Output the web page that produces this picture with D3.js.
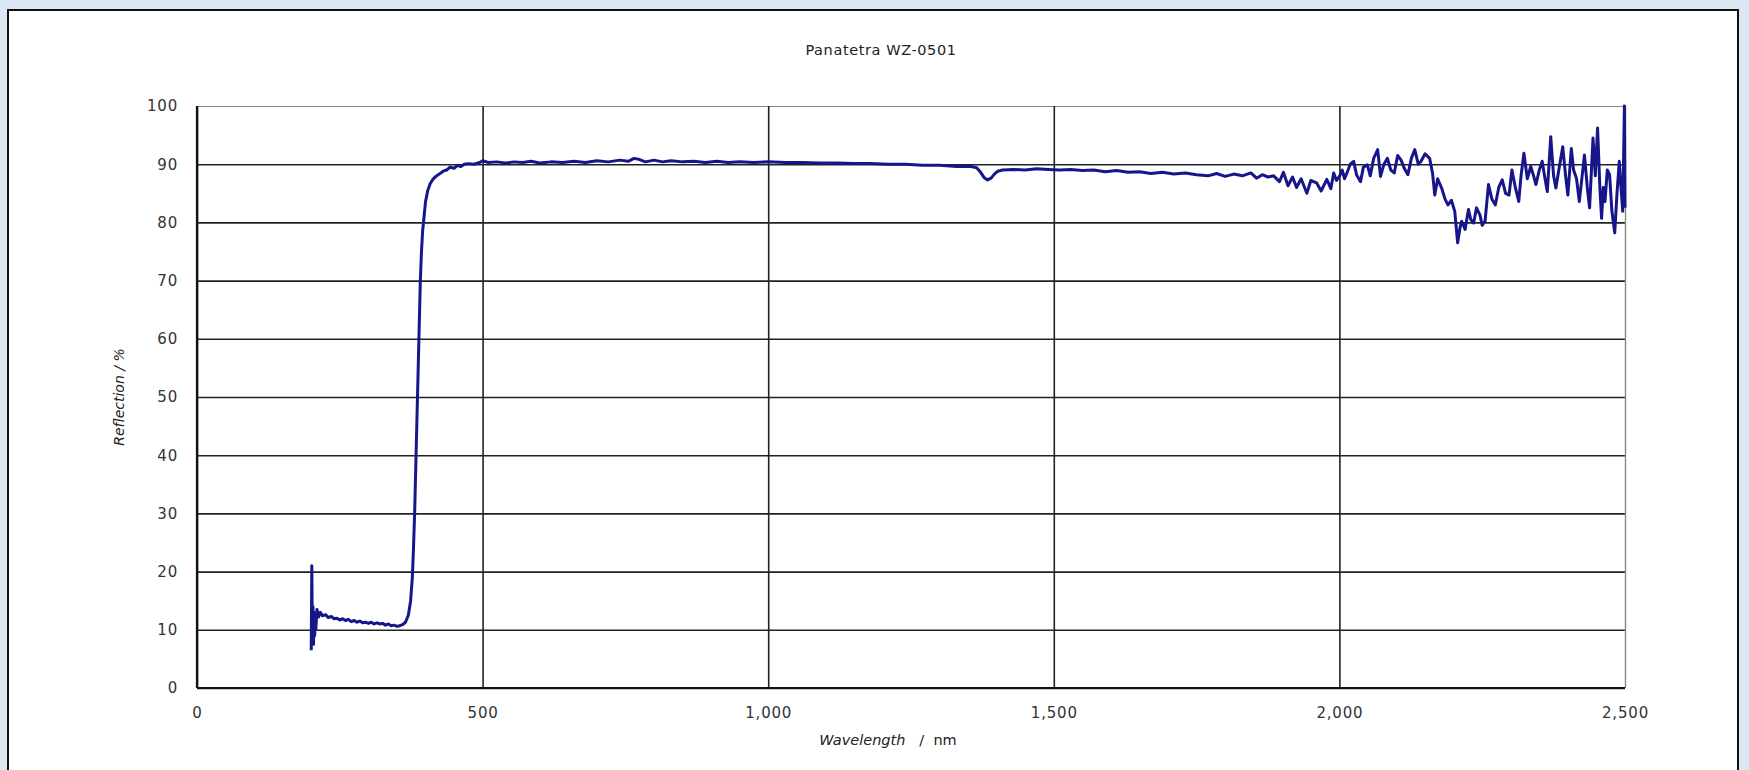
<!DOCTYPE html>
<html>
<head>
<meta charset="utf-8">
<script src="https://cdn.jsdelivr.net/npm/d3@7"></script>
<style>
  html, body { margin: 0; padding: 0; background: #dbe8f4; }
  svg { display: block; }
  .tick text { font-family: "DejaVu Sans", sans-serif; font-size: 15px; fill: #333; letter-spacing: 0.8px; }
</style>
</head>
<body>
<div id="chart"></div>
<script>
// tick values
const xTicks = [0, 500, 1000, 1500, 2000, 2500];
const yTicks = [0, 10, 20, 30, 40, 50, 60, 70, 80, 90, 100];

// spectrum
const wavelength = [
  200, 201, 202, 203, 204, 205, 206, 207, 208, 210, 213, 216, 220, 225, 230, 235, 240, 245, 250, 255,
  260, 265, 270, 275, 280, 285, 290, 295, 300, 305, 310, 315, 320, 325, 330, 335, 340, 345, 350, 355,
  360, 365, 370, 374, 377, 379, 381, 383, 385, 387, 389, 391, 393, 395, 397, 400, 404, 408, 413, 418,
  424, 431, 437, 443, 450, 456, 462, 468, 475, 485, 495, 500, 510, 525, 540, 555, 570, 585, 600, 620,
  640, 660, 680, 700, 720, 740, 755, 765, 775, 785, 800, 815, 830, 850, 870, 890, 910, 930, 950, 975,
  1000, 1030, 1060, 1090, 1120, 1150, 1180, 1210, 1240, 1270, 1300, 1330, 1355, 1365, 1372, 1378, 1384, 1390, 1396, 1402,
  1410, 1430, 1450, 1470, 1490, 1510, 1530, 1550, 1570, 1590, 1610, 1630, 1650, 1670, 1690, 1710, 1730, 1750, 1770, 1785,
  1800, 1815, 1830, 1845, 1855, 1865, 1875, 1885, 1895, 1902, 1910, 1918, 1925, 1933, 1943, 1950, 1960, 1968, 1978, 1985,
  1990, 1995, 2000, 2005, 2009, 2014, 2019, 2025, 2030, 2037, 2042, 2049, 2054, 2060, 2067, 2072, 2078, 2084, 2090, 2096,
  2102, 2108, 2114, 2120, 2126, 2132, 2138, 2143, 2150, 2158, 2163, 2167, 2172, 2179, 2185, 2190, 2196, 2202, 2207, 2211,
  2214, 2220, 2226, 2230, 2235, 2240, 2246, 2250, 2255, 2261, 2267, 2273, 2279, 2285, 2291, 2297, 2302, 2308, 2314, 2318,
  2323, 2329, 2335, 2340, 2344, 2350, 2355, 2360, 2364, 2370, 2375, 2379, 2385, 2391, 2396, 2400, 2406, 2410, 2415, 2420,
  2425, 2429, 2434, 2438, 2444, 2448, 2452, 2456, 2459, 2462, 2465, 2469, 2473, 2477, 2482, 2486, 2490, 2493, 2496, 2499,
  2500
];
const reflection = [
  6.5, 21, 8, 14, 7.5, 13, 9, 12.5, 10, 13.5, 12.2, 13.0, 12.4, 12.6, 12.1, 12.3, 11.9, 12.0, 11.7, 11.9,
  11.6, 11.8, 11.4, 11.6, 11.3, 11.5, 11.2, 11.3, 11.1, 11.3, 11.0, 11.2, 11.0, 11.1, 10.8, 11.0, 10.7, 10.8, 10.6, 10.7,
  10.9, 11.3, 12.5, 15, 19, 24, 30, 38, 46, 54, 62, 70, 75, 78.5, 80.5, 83.5, 85.5, 86.6, 87.4, 87.9,
  88.3, 88.8, 89.0, 89.5, 89.3, 89.8, 89.6, 90.0, 90.1, 90.0, 90.3, 90.6, 90.3, 90.4, 90.2, 90.4, 90.3, 90.5, 90.2, 90.4,
  90.3, 90.5, 90.3, 90.6, 90.4, 90.7, 90.5, 91.0, 90.8, 90.4, 90.7, 90.4, 90.6, 90.4, 90.5, 90.3, 90.5, 90.3, 90.4, 90.3,
  90.4, 90.3, 90.3, 90.2, 90.2, 90.1, 90.1, 90.0, 90.0, 89.8, 89.8, 89.6, 89.6, 89.4, 88.6, 87.7, 87.3, 87.6, 88.3, 88.8,
  89.0, 89.1, 89.0, 89.2, 89.1, 89.0, 89.1, 88.9, 89.0, 88.7, 88.9, 88.6, 88.7, 88.4, 88.6, 88.3, 88.5, 88.2, 88.0, 88.4,
  87.9, 88.3, 88.0, 88.5, 87.6, 88.2, 87.8, 88.0, 87.0, 88.6, 86.3, 87.8, 86.0, 87.5, 85.0, 87.2, 86.8, 85.4, 87.4, 85.8,
  88.5, 87.2, 87.9, 89.0, 87.5, 88.7, 90.0, 90.5, 88.2, 87.0, 89.5, 89.9, 88.0, 91.0, 92.5, 87.9, 90.0, 91.0, 89.0, 88.5,
  91.5, 90.7, 89.2, 88.2, 91.0, 92.5, 90.0, 90.5, 91.8, 91.0, 88.5, 84.7, 87.5, 85.9, 84.0, 83.0, 83.8, 81.9, 76.5, 79.0,
  80.2, 78.8, 82.2, 80.5, 79.9, 82.5, 81.3, 79.5, 80.2, 86.5, 84.0, 83.0, 86.0, 87.3, 85.0, 84.7, 89.0, 86.0, 83.6, 88.0,
  91.9, 87.5, 89.6, 88.0, 86.5, 89.0, 90.5, 87.5, 85.3, 94.7, 88.0, 85.9, 89.5, 93.0, 88.0, 84.7, 92.7, 89.0, 87.6, 83.6,
  88.0, 91.6, 86.0, 82.5, 94.5, 88.0, 96.2, 86.0, 80.7, 86.0, 83.6, 89.0, 88.2, 82.0, 78.2, 85.0, 90.5, 86.0, 81.9, 100,
  82.5
];

const W = 1749, H = 770;
const margin = { left: 197, right: 1625, top: 106, bottom: 688 };

const svg = d3.select("#chart").append("svg")
  .attr("width", W)
  .attr("height", H);

// white panel with black frame
svg.append("rect")
  .attr("x", 8).attr("y", 10)
  .attr("width", 1730).attr("height", 780)
  .attr("fill", "#fff")
  .attr("stroke", "#111")
  .attr("stroke-width", 2);

const x = d3.scaleLinear().domain([0, 2500]).range([margin.left, margin.right]);
const y = d3.scaleLinear().domain([0, 100]).range([margin.bottom, margin.top]);

// horizontal grid + y labels
const yAxis = svg.append("g")
  .attr("transform", `translate(${margin.left},0)`)
  .call(d3.axisLeft(y).tickValues(yTicks).tickSize(-(margin.right - margin.left)).tickPadding(19).tickFormat(d3.format("d")));
yAxis.select(".domain").remove();
yAxis.selectAll(".tick line").attr("stroke", "#222").attr("stroke-width", 1.6);
yAxis.selectAll(".tick").filter(d => d === 100).select("line").attr("stroke", "#888").attr("stroke-width", 1.2);

// vertical grid + x labels
const xAxis = svg.append("g")
  .attr("transform", `translate(0,${margin.bottom})`)
  .call(d3.axisBottom(x).tickValues(xTicks).tickSize(-(margin.bottom - margin.top)).tickPadding(19).tickFormat(d3.format(",")));
xAxis.select(".domain").remove();
xAxis.selectAll(".tick line").attr("stroke", "#222").attr("stroke-width", 1.6);
xAxis.selectAll(".tick").filter(d => d === 2500).select("line").attr("stroke", "#888").attr("stroke-width", 1.4);

// left and bottom axis lines
svg.append("line").attr("x1", margin.left).attr("x2", margin.left)
  .attr("y1", margin.top).attr("y2", margin.bottom).attr("stroke", "#111").attr("stroke-width", 2.2);
svg.append("line").attr("x1", margin.left).attr("x2", margin.right)
  .attr("y1", margin.bottom).attr("y2", margin.bottom).attr("stroke", "#111").attr("stroke-width", 2.2);

// spectrum line
const line = d3.line()
  .x((d, i) => x(wavelength[i]))
  .y(d => y(d));

svg.append("path")
  .datum(reflection)
  .attr("fill", "none")
  .attr("stroke", "#16168a")
  .attr("stroke-width", 3)
  .attr("stroke-linejoin", "round")
  .attr("d", line);

// titles
svg.append("text")
  .attr("x", 881).attr("y", 55)
  .attr("text-anchor", "middle")
  .attr("font-family", "DejaVu Sans, sans-serif")
  .attr("font-size", 14.5)
  .attr("letter-spacing", 0.6)
  .attr("fill", "#222")
  .text("Panatetra WZ-0501");

const xt = svg.append("text")
  .attr("x", 888).attr("y", 745)
  .attr("text-anchor", "middle")
  .attr("font-family", "DejaVu Sans, sans-serif")
  .attr("font-size", 14.5)
  .attr("fill", "#222");
xt.append("tspan").attr("font-style", "italic").text("Wavelength");
xt.append("tspan").attr("xml:space", "preserve").text("   /  nm");

const yt = svg.append("text")
  .attr("transform", `translate(124,397) rotate(-90)`)
  .attr("text-anchor", "middle")
  .attr("font-family", "DejaVu Sans, sans-serif")
  .attr("font-size", 14)
  .attr("font-style", "italic")
  .attr("fill", "#222");
yt.text("Reflection / %");
</script>
</body>
</html>
